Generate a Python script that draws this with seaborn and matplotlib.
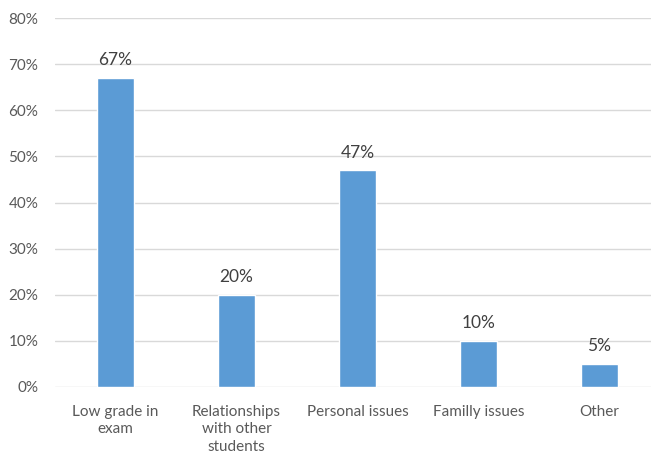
import numpy as np
import pandas as pd
import seaborn as sns
import matplotlib.pyplot as plt

categories = ["Low grade in\nexam", "Relationships\nwith other\nstudents", "Personal issues",
              "Familly issues", "Other"]
values = [0.67, 0.20, 0.47, 0.10, 0.05]
labels = ["67%", "20%", "47%", "10%", "5%"]
yticks = [0.0, 0.1, 0.2, 0.3, 0.4, 0.5, 0.6, 0.7, 0.8]

df = pd.DataFrame({"reason": categories, "share": values})

sns.set_style("white")
plt.rcParams['font.family'] = ['Lato', 'DejaVu Sans']

fig = plt.figure(figsize=(6.51, 4.58), dpi=100)
ax = fig.add_axes([55 / 651, 1 - 387 / 458, 1 - 55 / 651, (387 - 18) / 458])

sns.barplot(data=df, x="reason", y="share", color="#5B9BD5", width=0.31,
            saturation=1, ax=ax, zorder=3)

for i, (v, t) in enumerate(zip(values, labels)):
    ax.text(i, v + 0.021, t, ha="center", va="bottom", fontsize=12.5, color="#404040")

ax.set_ylim(0, 0.8)
ax.set_xlim(-0.5, -0.5 + 596 / 121)
ax.set_yticks(yticks)
ax.set_yticklabels([f"{int(round(t * 100))}%" for t in yticks])
ax.yaxis.grid(True, color="#D9D9D9", linewidth=1, zorder=0)
ax.set_xlabel("")
ax.set_ylabel("")
for s in ax.spines.values():
    s.set_visible(False)
ax.tick_params(axis="both", length=0, colors="#595959", labelsize=11)
ax.tick_params(axis="x", pad=13)
ax.tick_params(axis="y", pad=12)
for lab in ax.get_xticklabels():
    lab.set_linespacing(1.3)

fig.savefig("out.png", dpi=100)
